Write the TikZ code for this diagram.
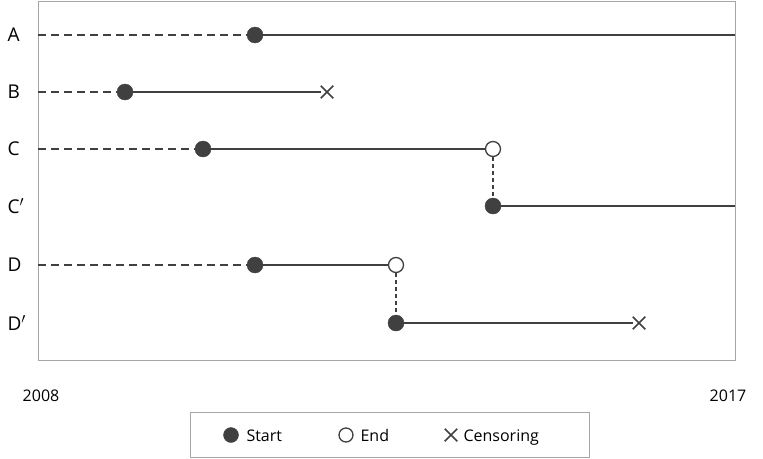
\documentclass[tikz,border=0pt]{standalone}
\usepackage{fontspec}
\setmainfont{Open Sans}
\definecolor{dk}{HTML}{404040}
\tikzset{
 ln/.style={draw=dk,line width=2.2pt},
 dl/.style={draw=dk,line width=2.2pt,dash pattern=on 8pt off 5pt},
 vd/.style={draw=dk,line width=1.2pt,dash pattern=on 4pt off 3pt},
 fc/.style={circle,fill=dk,draw=dk,inner sep=0,minimum size=16pt},
 oc/.style={circle,fill=white,draw=dk,line width=1.3pt,inner sep=0,minimum size=15pt},
 cx/.style={cross out,draw=dk,line width=1.5pt,inner sep=0,minimum size=11pt},
 lab/.style={font=\fontsize{19}{21}\selectfont,text=black},
 sm/.style={font=\fontsize{16}{18}\selectfont,text=black}
}
\usetikzlibrary{shapes.misc}
\begin{document}
\begin{tikzpicture}[x=1pt,y=-1pt]
\useasboundingbox (0,0) rectangle (763,458);
\draw[gray!70,line width=0.8pt] (38,1) rectangle (735,360);
\foreach \n/\t/\y in {a/A/35,b/B/92,c/C/149,cp/C$'$/206,d/D/265,dp/D$'$/323}
  \node[lab,anchor=west] (l\n) at (4,\y) {\t};
\coordinate (a0) at (38,35); \coordinate (b0) at (38,92); \coordinate (c0) at (38,149); \coordinate (d0) at (38,265);
\coordinate (ae) at (735,35); \coordinate (cpe) at (735,206);
\node[fc] (as) at (255,35) {};
\node[fc] (bs) at (125,92) {};
\node[cx] (be) at (327,92) {};
\node[fc] (cs) at (203,149) {};
\node[oc] (ce) at (493,149) {};
\node[fc] (cps) at (493,206) {};
\node[fc] (ds) at (255,265) {};
\node[oc] (de) at (396,265) {};
\node[fc] (dps) at (396,323) {};
\node[cx] (dpe) at (639,323) {};
\draw[dl] (a0) -- (as); \draw[ln] (as) -- (ae);
\draw[dl] (b0) -- (bs); \draw[ln] (bs) -- (be);
\draw[dl] (c0) -- (cs); \draw[ln] (cs) -- (ce);
\draw[vd] (ce) -- (cps); \draw[ln] (cps) -- (cpe);
\draw[dl] (d0) -- (ds); \draw[ln] (ds) -- (de);
\draw[vd] (de) -- (dps); \draw[ln] (dps) -- (dpe);
\node[sm] (y1) at (41,396) {2008};
\node[sm] (y2) at (728,396) {2017};
\draw[gray!70,line width=0.8pt] (190,412) rectangle (589,457);
\node[fc,minimum size=15pt] (k1) at (231,435) {};
\node[sm,anchor=base west] (t1) at (243,441) {Start};
\node[oc,minimum size=14pt] (k2) at (346,435) {};
\node[sm,anchor=base west] (t2) at (357,441) {End};
\node[cx] (k3) at (451,435) {};
\node[sm,anchor=base west] (t3) at (460,441) {Censoring};
\end{tikzpicture}
\end{document}
